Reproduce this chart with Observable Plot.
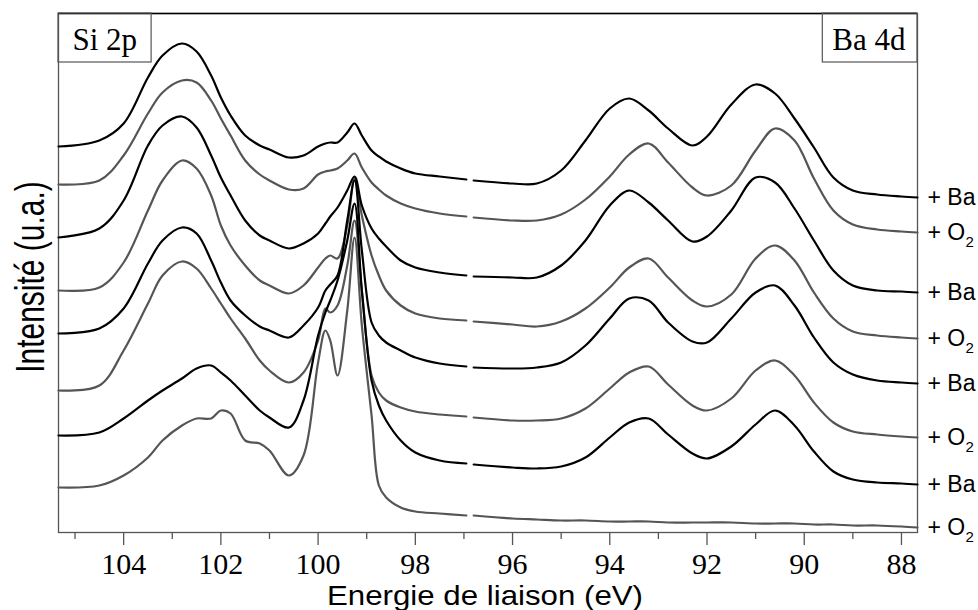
<!DOCTYPE html>
<html><head><meta charset="utf-8">
<script src="https://cdn.jsdelivr.net/npm/d3@7"></script>
<script src="https://cdn.jsdelivr.net/npm/@observablehq/plot@0.6"></script>
<style>html,body{margin:0;padding:0;background:#fff;} #chart{width:978px;height:610px;}</style>
</head><body><div id="chart"></div>
<script>
// Binding energy (eV) sample points
const energies = [105.34, 104.5, 104, 103.5, 103.2, 102.8, 102.5, 102.2, 102, 101.8,
  101.5, 101.2, 101, 100.6, 100.3, 100, 99.85, 99.75, 99.6, 99.4,
  99.25, 99.1, 98.9, 98.75, 98.6, 98.3, 98, 97.5, 96.95, 96.8,
  96, 95.5, 95, 94.5, 94, 93.6, 93.2, 92.8, 92.3, 92,
  91.5, 91, 90.6, 90.2, 89.8, 89.4, 89, 88.5, 88, 87.67];

// Intensities (u.a., stacked offsets included), top curve first
const curve1 = [386, 392, 409, 455, 477, 489, 481, 457, 435, 417, 397, 387, 383, 375, 377, 386, 389, 390, 390, 400, 409, 397, 382, 376, 371, 364, 359, 356, 353, 352, 349, 349, 362, 392, 424, 434, 422, 404, 387, 396, 428, 448, 439, 414, 385, 355, 342, 338, 336, 335];
const curve2 = [348, 352, 377, 419, 440, 452, 450, 432, 414, 397, 372, 358, 352, 343, 344, 358, 361, 362, 364, 372, 379, 365, 350, 343, 337, 329, 324, 319, 316, 315, 312, 312, 318, 333, 356, 378, 389, 370, 345, 337, 347, 382, 404, 392, 354, 322, 308, 303, 301, 300];
const curve3 = [295, 304, 332, 387, 407, 416, 405, 377, 355, 337, 312, 297, 292, 284, 289, 299, 309, 316, 325, 342, 356, 327, 304, 294, 286, 272, 265, 260, 257, 256, 255, 255, 267, 292, 327, 342, 330, 312, 291, 296, 322, 355, 350, 324, 292, 262, 247, 242, 241, 240];
const curve4 = [242, 245, 270, 322, 352, 372, 364, 337, 307, 287, 267, 252, 247, 239, 247, 265, 274, 277, 274, 307, 354, 317, 277, 257, 242, 227, 219, 214, 212, 211, 208, 206, 211, 224, 245, 265, 274, 255, 232, 226, 238, 274, 287, 272, 240, 214, 201, 197, 195, 194];
const curve5 = [199, 204, 224, 269, 292, 305, 299, 272, 250, 232, 217, 206, 202, 195, 207, 225, 242, 248, 257, 312, 352, 282, 210, 197, 190, 182, 175, 169, 166, 165, 164, 165, 170, 187, 214, 234, 232, 210, 191, 190, 214, 240, 247, 227, 195, 170, 158, 152, 150, 149];
const curve6 = [142, 147, 182, 229, 257, 271, 264, 244, 229, 214, 194, 172, 162, 150, 160, 192, 224, 220, 227, 267, 312, 242, 157, 140, 132, 125, 121, 118, 116, 115, 112, 112, 114, 124, 144, 160, 166, 148, 127, 122, 134, 162, 172, 157, 130, 110, 101, 98, 96, 95];
const curve7 = [97, 100, 114, 132, 142, 154, 164, 167, 160, 152, 137, 122, 115, 105, 132, 197, 220, 232, 252, 292, 329, 242, 152, 127, 112, 92, 80, 72, 69, 68, 65, 64, 66, 75, 95, 110, 114, 98, 79, 74, 86, 108, 122, 107, 81, 61, 53, 50, 49, 48];
const curve8 = [45, 47, 57, 75, 92, 107, 114, 114, 122, 119, 92, 89, 82, 57, 77, 170, 202, 192, 157, 222, 295, 207, 117, 47, 35, 25, 21, 19, 17, 17, 14, 13, 12, 12, 11, 11, 11, 10, 10, 10, 10, 9, 9, 9, 8, 8, 7, 7, 6, 5];

const labels = ["+ Ba", "+ O2", "+ Ba", "+ O2", "+ Ba", "+ O2", "+ Ba", "+ O2"];
const majorTicks = [104, 102, 100, 98, 96, 94, 92, 90, 88];
const minorTicks = [105, 103, 101, 99, 97, 95, 93, 91, 89];
const xTitle = "Energie de liaison (eV)";
const yTitle = "Intensité (u.a.)";
const panels = ["Si 2p", "Ba 4d"];

const curves = [curve1, curve2, curve3, curve4, curve5, curve6, curve7, curve8];
const rows = curves.flatMap((vals, c) => energies.map((e, i) => ({
  energy: e, intensity: vals[i], curve: c, segment: c + (e > 96.9 ? "-Si" : "-Ba")
})));
const ends = curves.map((vals, c) => ({
  intensity: vals[vals.length - 1],
  main: labels[c].replace(/2$/, ""),
  sub: labels[c].endsWith("2") ? "2" : ""
}));

const sans = "'Liberation Sans', Arial, sans-serif";
const serif = "'Liberation Serif', 'Times New Roman', serif";

const svg = Plot.plot({
  width: 978, height: 610,
  marginLeft: 58, marginRight: 61, marginTop: 13, marginBottom: 78,
  style: {background: "#fff", fontFamily: sans, overflow: "visible"},
  x: {domain: [105.34, 87.67]},
  y: {domain: [0, 519], axis: null},
  marks: [
    Plot.frame({stroke: "#555", strokeWidth: 1.3}),
    Plot.ruleY([519], {stroke: "#000", strokeWidth: 1.3}),
    Plot.axisX({ticks: minorTicks, tickSize: 7, tickFormat: () => "", label: null, stroke: "#555", strokeWidth: 1.3}),
    Plot.axisX({ticks: majorTicks, tickSize: 13, tickFormat: () => "", label: null, stroke: "#555", strokeWidth: 1.3}),
    Plot.text(majorTicks, {x: d => d, frameAnchor: "bottom", dy: 20, lineAnchor: "top", fontSize: 30, fontFamily: serif, fill: "#000", text: d => String(d)}),
    Plot.line(rows.filter(d => d.curve % 2 === 1), {x: "energy", y: "intensity", z: "segment", stroke: "#555", strokeWidth: 2.2, curve: "catmull-rom"}),
    Plot.line(rows.filter(d => d.curve % 2 === 0), {x: "energy", y: "intensity", z: "segment", stroke: "#000", strokeWidth: 2.2, curve: "catmull-rom"}),
    Plot.text(ends, {frameAnchor: "right", y: "intensity", text: "main", dx: 10, textAnchor: "start", fontSize: 23, fontFamily: sans, fill: "#000"}),
    Plot.text(ends.filter(d => d.sub), {frameAnchor: "right", y: "intensity", text: "sub", dx: 48, dy: 10, textAnchor: "start", fontSize: 15, fontFamily: sans, fill: "#000"}),
    Plot.text([xTitle], {frameAnchor: "bottom", dy: 53, dx: -3, fontSize: 28, lineAnchor: "top", fontFamily: sans, fill: "#000"}),
    Plot.text([yTitle], {frameAnchor: "left", rotate: -90, dx: -27, dy: 4, fontSize: 30, textAnchor: "middle", lineAnchor: "middle", fontFamily: sans, fill: "#000"}),
    Plot.text([panels[0]], {frameAnchor: "top-left", dx: 14, dy: 14, fontSize: 31, fontFamily: serif, textAnchor: "start", lineAnchor: "top", fill: "#000"}),
    Plot.text([panels[1]], {frameAnchor: "top-right", dx: -12, dy: 14, fontSize: 31, fontFamily: serif, textAnchor: "end", lineAnchor: "top", fill: "#000"})
  ]
});
document.getElementById("chart").append(svg);

// Post-process: serif tick labels, stretched titles, boxes around panel labels
const texts = Array.from(svg.querySelectorAll("text"));
const tickStrings = majorTicks.map(String);
texts.filter(t => tickStrings.includes(t.textContent)).forEach(t => {
  t.style.fontFamily = serif;
});
const xEl = texts.find(t => t.textContent === xTitle);
if (xEl) {
  xEl.setAttribute("textLength", 316);
  xEl.setAttribute("lengthAdjust", "spacingAndGlyphs");
}
const yEl = texts.find(t => t.textContent === yTitle);
if (yEl) {
  const tr = yEl.getAttribute("transform");
  if (tr) yEl.setAttribute("transform", tr + " scale(1,1.35)");
}
const svgRect = svg.getBoundingClientRect();
panels.forEach((p, i) => {
  const el = texts.find(t => t.textContent === p);
  if (!el) return;
  const r = el.getBoundingClientRect();
  const x1 = i === 0 ? 58 : r.left - svgRect.left - 10;
  const x2 = i === 0 ? r.right - svgRect.left + 14 : 917;
  d3.select(svg).append("rect")
    .attr("x", x1).attr("y", 13).attr("width", x2 - x1).attr("height", 49)
    .attr("fill", "none").attr("stroke", "#555").attr("stroke-width", 1.2);
});
</script>
</body></html>
